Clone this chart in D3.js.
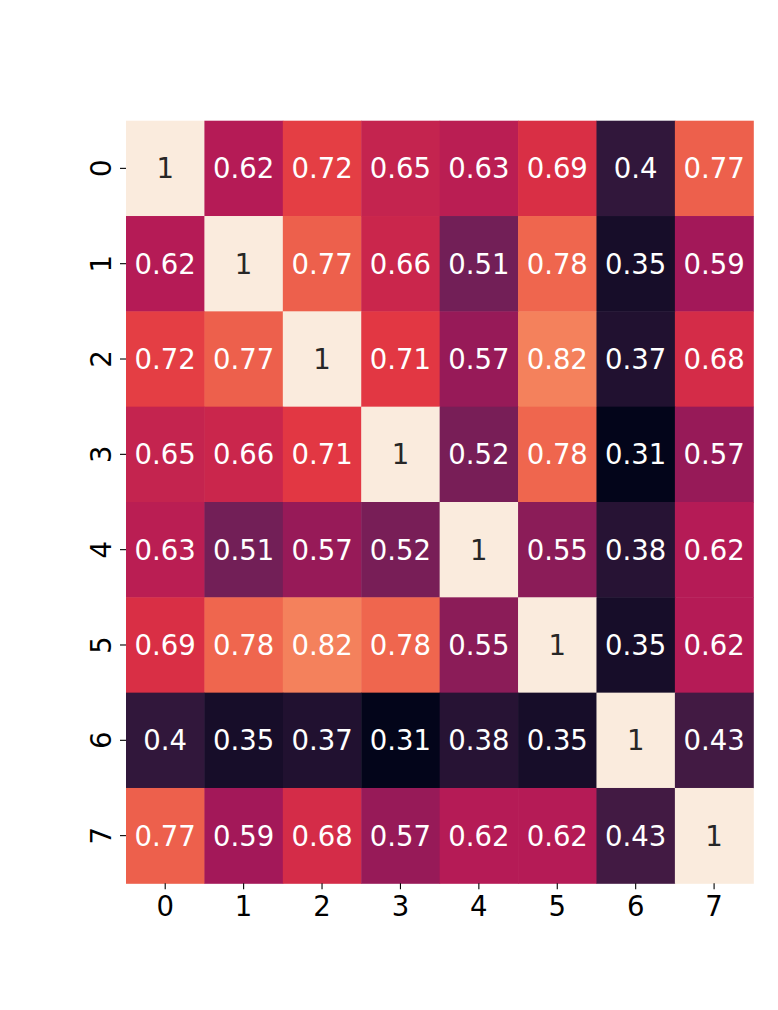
<!DOCTYPE html>
<html lang="en">
<head>
  <meta charset="UTF-8">
  <title>Heatmap</title>
  <style>
    body { margin: 0; background: #fff; }
    text { font-family: "DejaVu Sans", sans-serif; }
  </style>
</head>
<body>
  <div class="canvas"></div>
  <script src="https://d3js.org/d3.v7.min.js"></script>
  <script>
    const labels = ['0', '1', '2', '3', '4', '5', '6', '7'];
    const row0 = [1, 0.62, 0.72, 0.65, 0.63, 0.69, 0.4, 0.77];
    const row1 = [0.62, 1, 0.77, 0.66, 0.51, 0.78, 0.35, 0.59];
    const row2 = [0.72, 0.77, 1, 0.71, 0.57, 0.82, 0.37, 0.68];
    const row3 = [0.65, 0.66, 0.71, 1, 0.52, 0.78, 0.31, 0.57];
    const row4 = [0.63, 0.51, 0.57, 0.52, 1, 0.55, 0.38, 0.62];
    const row5 = [0.69, 0.78, 0.82, 0.78, 0.55, 1, 0.35, 0.62];
    const row6 = [0.4, 0.35, 0.37, 0.31, 0.38, 0.35, 1, 0.43];
    const row7 = [0.77, 0.59, 0.68, 0.57, 0.62, 0.62, 0.43, 1];
    const rows = [row0, row1, row2, row3, row4, row5, row6, row7];

    // rocket colormap stops
    const rocket = ['#03051A', '#35193E', '#701F57', '#AD1759', '#E13342', '#F37651', '#F6B48F', '#FAEBDD'];

    const width = 778;
    const height = 1010;
    const margin = {top: 120.7, right: 24.7, bottom: 126.7, left: 126};
    const graphWidth = width - margin.left - margin.right;
    const graphHeight = height - margin.top - margin.bottom;

    const svg = d3.select('.canvas')
      .append('svg')
      .attr('width', width)
      .attr('height', height);

    const graph = svg.append('g')
      .attr('transform', `translate(${margin.left}, ${margin.top})`);

    const x = d3.scaleBand().domain(labels).range([0, graphWidth]);
    const y = d3.scaleBand().domain(labels).range([0, graphHeight]);

    const cells = [];
    rows.forEach((r, i) => r.forEach((v, j) => cells.push({row: labels[i], col: labels[j], v})));

    const vmin = d3.min(cells, d => d.v);
    const vmax = d3.max(cells, d => d.v);
    const color = d3.scaleLinear()
      .domain(rocket.map((c, i) => vmin + (vmax - vmin) * i / (rocket.length - 1)))
      .range(rocket)
      .interpolate(d3.interpolateRgb);

    const fmt = d3.format('.2~g');

    graph.selectAll('rect')
      .data(cells)
      .enter()
      .append('rect')
      .attr('x', d => x(d.col))
      .attr('y', d => y(d.row))
      .attr('width', x.bandwidth() + 0.5)
      .attr('height', y.bandwidth() + 0.5)
      .attr('fill', d => color(d.v));

    const lum = c => {
      const rgb = d3.rgb(c);
      const f = u => { u /= 255; return u <= 0.03928 ? u / 12.92 : Math.pow((u + 0.055) / 1.055, 2.4); };
      return 0.2126 * f(rgb.r) + 0.7152 * f(rgb.g) + 0.0722 * f(rgb.b);
    };

    graph.selectAll('text.annot')
      .data(cells)
      .enter()
      .append('text')
      .attr('class', 'annot')
      .attr('x', d => x(d.col) + x.bandwidth() / 2)
      .attr('y', d => y(d.row) + y.bandwidth() / 2)
      .attr('dy', '0.36em')
      .attr('text-anchor', 'middle')
      .style('font-size', '27.5px')
      .attr('fill', d => lum(color(d.v)) > 0.408 ? '#262626' : '#ffffff')
      .text(d => fmt(d.v));

    const gX = graph.append('g')
      .attr('transform', `translate(0, ${graphHeight})`)
      .call(d3.axisBottom(x).tickSize(6).tickPadding(7));
    const gY = graph.append('g')
      .call(d3.axisLeft(y).tickSize(6).tickPadding(9));

    [gX, gY].forEach(g => {
      g.select('.domain').remove();
      g.selectAll('line').attr('stroke', '#000').attr('stroke-width', 1.1);
      g.selectAll('text')
        .style('font-size', '27.5px')
        .style('font-family', '"DejaVu Sans", sans-serif')
        .attr('fill', '#000');
    });

    gY.selectAll('text')
      .attr('text-anchor', 'middle')
      .attr('x', null)
      .attr('dy', null)
      .attr('transform', 'translate(-15, 0) rotate(-90)')
      .attr('dominant-baseline', 'auto');
  </script>
</body>
</html>
